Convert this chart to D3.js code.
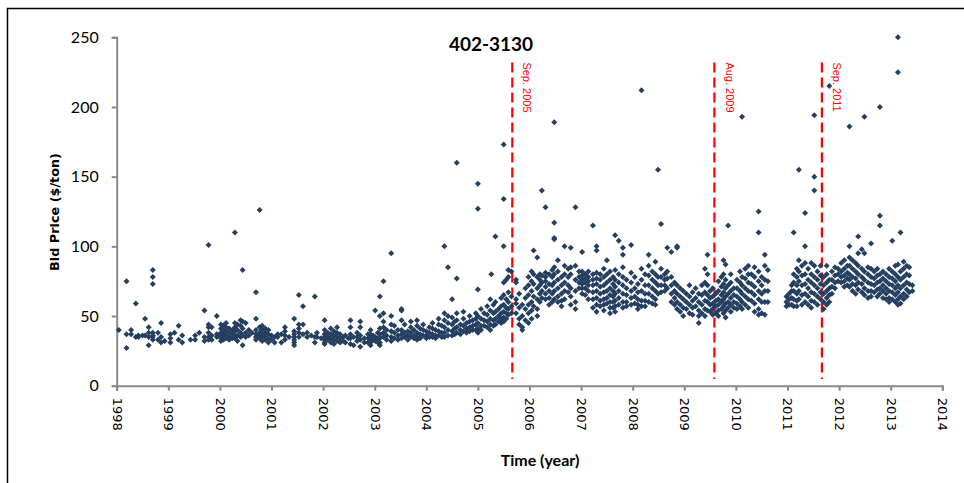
<!DOCTYPE html>
<html>
<head>
<meta charset="utf-8">
<script src="https://cdn.jsdelivr.net/npm/d3@7"></script>
<style>
  html, body { margin: 0; padding: 0; background: #fff; }
  svg { display: block; }
</style>
</head>
<body>
<svg id="chart" width="964" height="483"></svg>
<script>
// Auction dates (decimal year) and the bids received at each auction ($/ton)
const bidDates = [
  1998.04, 1998.19, 1998.28, 1998.37, 1998.42, 1998.50, 1998.55, 1998.62, 1998.70, 1998.80,
  1998.86, 1998.93, 1999.04, 1999.12, 1999.20, 1999.27, 1999.43, 1999.52, 1999.60, 1999.70,
  1999.78, 1999.84, 1999.94, 2000.02, 2000.07, 2000.12, 2000.18, 2000.24, 2000.29, 2000.34,
  2000.40, 2000.44, 2000.50, 2000.56, 2000.62, 2000.70, 2000.77, 2000.82, 2000.88, 2000.94,
  2001.00, 2001.06, 2001.12, 2001.19, 2001.26, 2001.34, 2001.44, 2001.53, 2001.61, 2001.69,
  2001.77, 2001.84, 2001.88, 2001.96, 2002.03, 2002.09, 2002.15, 2002.21, 2002.27, 2002.33,
  2002.39, 2002.43, 2002.49, 2002.53, 2002.59, 2002.66, 2002.72, 2002.80, 2002.87, 2002.92,
  2002.97, 2003.01, 2003.06, 2003.10, 2003.17, 2003.23, 2003.32, 2003.38, 2003.45, 2003.52,
  2003.58, 2003.64, 2003.70, 2003.76, 2003.82, 2003.88, 2003.94, 2004.00, 2004.06, 2004.12,
  2004.18, 2004.24, 2004.30, 2004.35, 2004.42, 2004.50, 2004.55, 2004.59, 2004.66, 2004.72,
  2004.78, 2004.84, 2004.90, 2004.96, 2005.00, 2005.06, 2005.12, 2005.18, 2005.24, 2005.26,
  2005.30, 2005.34, 2005.40, 2005.45, 2005.50, 2005.55, 2005.59, 2005.65, 2005.74, 2005.80,
  2005.86, 2005.92, 2005.98, 2006.04, 2006.08, 2006.15, 2006.20, 2006.24, 2006.31, 2006.38,
  2006.44, 2006.48, 2006.55, 2006.62, 2006.68, 2006.75, 2006.80, 2006.89, 2006.96, 2007.02,
  2007.08, 2007.14, 2007.23, 2007.30, 2007.37, 2007.44, 2007.50, 2007.56, 2007.62, 2007.66,
  2007.73, 2007.81, 2007.88, 2007.97, 2008.04, 2008.10, 2008.17, 2008.24, 2008.31, 2008.38,
  2008.44, 2008.49, 2008.55, 2008.62, 2008.67, 2008.75, 2008.81, 2008.86, 2008.92, 2008.98,
  2009.04, 2009.10, 2009.16, 2009.22, 2009.28, 2009.34, 2009.40, 2009.45, 2009.50, 2009.55,
  2009.61, 2009.66, 2009.72, 2009.76, 2009.80, 2009.85, 2009.90, 2009.96, 2010.02, 2010.08,
  2010.12, 2010.18, 2010.24, 2010.30, 2010.36, 2010.44, 2010.50, 2010.56, 2010.62, 2010.98,
  2011.03, 2011.08, 2011.12, 2011.18, 2011.22, 2011.28, 2011.34, 2011.40, 2011.46, 2011.52,
  2011.58, 2011.64, 2011.70, 2011.76, 2011.81, 2011.86, 2011.92, 2011.98, 2012.04, 2012.10,
  2012.16, 2012.20, 2012.26, 2012.32, 2012.37, 2012.44, 2012.49, 2012.56, 2012.62, 2012.68,
  2012.74, 2012.79, 2012.85, 2012.91, 2012.97, 2013.03, 2013.09, 2013.14, 2013.19, 2013.25,
  2013.31, 2013.36, 2013.42
];

const bidPrices = [
  [40], [75, 37, 27], [40, 37], [59, 35], [36, 35], [36], [48, 36], [42, 38, 35, 29],
  [83, 78, 73, 38, 36, 35, 33], [38, 33],
  [45, 35, 31], [32], [37, 34, 31], [38], [43, 33], [36, 31], [33], [36, 33], [38], [54, 35, 32],
  [101, 44, 42, 38, 35, 33], [42, 36, 33], [50, 37, 35], [44, 41, 38, 36, 34, 32], [43, 40, 37, 35, 33],
  [45, 42, 39, 36, 34], [41, 38, 35, 33], [40, 37, 34], [110, 45, 42, 39, 36, 34], [44, 40, 36, 32],
  [47, 43, 38, 35], [83, 46, 41, 36, 29], [45, 38, 35], [40, 36], [38], [67, 48, 40, 37, 35, 33],
  [126, 42, 38, 36, 34], [43, 40, 37, 35, 32], [41, 38, 35, 33], [40, 37, 34, 31],
  [36, 33], [35, 31], [37, 35], [37, 31], [42, 39, 36, 33], [35], [48, 39, 37, 35, 33, 31, 29],
  [65, 44, 41, 38, 35], [57, 44, 37], [38, 35],
  [36], [64, 35, 31], [38, 35], [34], [47, 40, 37, 35, 33, 31, 30], [38, 35, 33], [41, 37, 34, 31],
  [39, 36, 33, 30], [42, 38, 35, 32], [37, 34, 31],
  [35, 32], [36, 31], [34], [47, 42, 37, 34, 30], [35, 29], [38, 35, 32], [46, 42, 36, 33, 28],
  [34, 31], [37, 34, 31], [40, 37, 35, 33, 31, 29],
  [36, 33], [54, 35, 32], [38, 34, 31], [64, 50, 41, 37, 34, 31, 29], [75, 52, 46, 42, 38, 35],
  [40, 36, 33], [95, 50, 44, 39, 35, 32], [43, 38, 34], [40, 36, 33], [55, 54, 47, 40, 37, 34],
  [44, 38, 35], [39, 36, 33], [46, 42, 38, 35], [40, 36, 34], [47, 43, 38, 35, 33], [41, 37, 34],
  [44, 40, 36], [39, 36, 34], [42, 38, 35], [45, 41, 37, 35],
  [40, 36, 34], [48, 44, 39, 36], [43, 38, 35], [100, 52, 47, 42, 38, 35], [85, 50, 45, 40, 36],
  [62, 49, 44, 39, 36], [46, 41, 37], [160, 77, 52, 47, 42, 38], [44, 40, 37], [53, 48, 43, 39],
  [45, 41, 38], [50, 46, 42, 39], [47, 43, 40], [52, 48, 44, 40], [145, 127, 69, 50, 45, 41, 38],
  [55, 48, 43, 40], [52, 47, 43], [57, 51, 46, 42], [62, 54, 48, 44, 40], [80],
  [58, 52, 47, 43], [107, 60, 53, 48, 44], [55, 50, 46], [63, 57, 52, 48, 45],
  [173, 134, 100, 74, 65, 58, 53, 49, 46], [76, 62, 56, 52, 48], [83, 78, 67, 60, 55, 51],
  [82, 64, 57, 52], [76, 74, 62, 59, 52], [66, 56, 48, 44],
  [58, 50, 42, 40], [70, 63, 55, 47], [78, 72, 65, 58, 52, 45], [82, 75, 68, 60, 54, 48],
  [97, 80, 73, 64, 57], [92, 78, 70, 62, 55, 50], [80, 76, 72, 66, 60], [140, 79, 74, 68, 63],
  [128, 81, 78, 75, 71, 66, 62], [80, 73, 68, 63, 58],
  [83, 78, 72, 66, 60], [189, 117, 106, 105, 85, 80, 74, 68, 62], [90, 82, 76, 70, 64, 60],
  [78, 72, 66, 61, 57], [100, 86, 80, 74, 68, 62], [84, 78, 72, 67], [99, 85, 80, 70, 64, 58],
  [128, 86, 76, 68, 60, 55], [82, 78, 74, 70], [96, 82, 79, 76, 73, 70, 66],
  [80, 77, 74, 70, 65], [82, 78, 75, 72, 68, 62], [115, 80, 76, 72, 67, 62, 56],
  [100, 97, 81, 77, 73, 68, 63, 58, 53], [80, 76, 71, 66, 61, 57], [84, 78, 72, 67, 62, 58, 54],
  [90, 80, 74, 68, 63, 59], [82, 76, 70, 65, 60, 56, 52], [78, 73, 68, 64, 60, 56],
  [108, 83, 76, 71, 66, 61, 57, 53],
  [104, 80, 74, 68, 63, 58], [99, 94, 85, 78, 72, 66, 60, 56], [76, 70, 65, 60, 57],
  [101, 81, 74, 68, 63, 58], [78, 70, 64, 59], [73, 67, 62, 58, 55], [212, 84, 76, 68, 61, 57],
  [80, 72, 66, 61, 57], [94, 86, 79, 72, 66, 60], [82, 76, 70, 64, 59],
  [89, 80, 74, 68, 62, 58], [155, 78, 72, 66], [116, 84, 78, 72, 67], [80, 76, 72, 68],
  [99, 82, 77, 70], [96, 78, 72, 66, 60], [74, 68, 63, 58], [100, 99, 72, 66, 60, 55],
  [70, 64, 58, 53], [68, 62, 56, 50],
  [66, 60, 55], [72, 64, 58, 52], [67, 61, 56, 51], [70, 63, 57], [66, 60, 54, 50, 45],
  [72, 65, 58, 52], [84, 74, 67, 61, 55, 50], [94, 80, 72, 65, 60, 54], [68, 63, 58, 53],
  [70, 64, 59, 55, 51],
  [66, 61, 57, 52], [75, 68, 62, 58, 54, 50], [78, 71, 65, 60, 55], [90, 80, 73, 67, 62, 57, 52],
  [87, 76, 70, 64, 59, 54, 49], [115, 72, 66, 60, 56], [80, 74, 68, 63, 58, 53], [70, 65, 60, 56],
  [76, 70, 64, 59, 55], [82, 74, 68, 62, 57],
  [193, 78, 72, 66, 60, 55], [84, 77, 70, 64, 58], [86, 80, 74, 68, 62, 56], [80, 73, 67, 61],
  [85, 78, 71, 65, 59, 53], [125, 110, 82, 75, 68, 62, 55, 51], [78, 72, 66, 60, 52],
  [94, 86, 76, 68, 60, 51], [83, 75, 68, 60], [64, 60, 57],
  [66, 62, 58], [72, 68, 63, 58], [110, 80, 74, 68, 62, 57], [84, 78, 72, 66, 61, 57],
  [155, 90, 82, 75, 68, 62], [86, 79, 72, 65, 58], [124, 100, 88, 80, 73, 66, 60],
  [84, 76, 70, 64, 58], [88, 80, 74, 67, 61, 56], [194, 150, 140, 86, 78, 72, 66, 60],
  [82, 76, 70, 64, 58], [86, 79, 73, 67, 62], [78, 72, 66, 60, 55], [86, 80, 74, 68, 63, 58],
  [215, 76, 70, 65, 60], [82, 76, 71, 66], [85, 79, 74, 70], [84, 80, 75], [88, 82, 78, 74],
  [90, 84, 79, 75, 71],
  [86, 81, 77, 72], [186, 100, 92, 86, 80, 76, 71], [90, 84, 78, 73, 68], [88, 82, 77, 72, 66],
  [107, 95, 86, 80, 74, 69], [98, 84, 78, 73, 67], [193, 95, 82, 76, 70, 65], [85, 80, 74, 68, 63],
  [102, 84, 78, 73, 68, 64], [82, 77, 72, 67],
  [84, 79, 74, 69, 64], [200, 122, 115, 80, 75, 70, 66], [82, 77, 72, 68, 63], [80, 75, 70, 66, 62],
  [84, 78, 73, 68, 63, 60], [104, 82, 77, 72, 67, 62], [86, 80, 75, 70, 65, 60],
  [250, 225, 87, 78, 72, 67, 62, 58], [110, 82, 76, 70, 64, 59], [89, 84, 78, 72, 66, 62],
  [86, 80, 74, 69, 64], [85, 79, 73, 67], [72, 68]
];

// Policy events marked with vertical reference lines
const eventDates = [2005 + 8 / 12, 2009 + 7 / 12, 2011 + 8 / 12];
const eventLabels = ["Sep. 2005", "Aug. 2009", "Sep. 2011"];

// Axis ticks
const yearTicks = d3.range(1998, 2015);
const priceTicks = [0, 50, 100, 150, 200, 250];

const chartTitle = "402-3130";
const xTitle = "Time (year)";
const yTitle = "Bid Price ($/ton)";

const bids = bidDates.flatMap((d, i) => bidPrices[i].map(p => ({ date: d, price: p })));

const svg = d3.select("#chart");

// outer frame
svg.append("rect")
  .attr("x", 7.5).attr("y", 8.5)
  .attr("width", 1000).attr("height", 520)
  .attr("fill", "none").attr("stroke", "#000").attr("stroke-width", 1.5);

const x = d3.scaleLinear().domain([1998, 2014]).range([116.7, 942.3]);
const y = d3.scaleLinear().domain([0, 250]).range([385.7, 37.3]);

const axisColor = "#898989";

// y axis
const gy = svg.append("g")
  .attr("transform", `translate(${x(1998)},0)`)
  .call(d3.axisLeft(y).tickValues(priceTicks).tickSize(5).tickPadding(13).tickFormat(d3.format("d")));
gy.select(".domain").attr("stroke", axisColor).attr("stroke-width", 2);
gy.selectAll(".tick line").attr("stroke", axisColor).attr("stroke-width", 2);
gy.selectAll(".tick text")
  .attr("fill", "#000")
  .style("font-family", "Lato, 'Liberation Sans', sans-serif")
  .style("font-size", "16px");

// x axis
const gx = svg.append("g")
  .attr("transform", `translate(0,${y(0)})`)
  .call(d3.axisBottom(x).tickValues(yearTicks).tickSize(5).tickFormat(d3.format("d")));
gx.select(".domain").attr("stroke", axisColor).attr("stroke-width", 2);
gx.selectAll(".tick line").attr("stroke", axisColor).attr("stroke-width", 2);
gx.selectAll(".tick text")
  .attr("fill", "#000")
  .attr("transform", "rotate(90)")
  .attr("x", 12).attr("y", 0).attr("dy", "0.36em")
  .attr("text-anchor", "start")
  .style("font-family", "'DejaVu Sans', sans-serif")
  .style("font-size", "13px");

// event reference lines
const eventTop = 232;
const ev = svg.append("g").selectAll("g").data(eventDates).join("g");
ev.append("line")
  .attr("x1", d => x(d)).attr("x2", d => x(d))
  .attr("y1", y(eventTop)).attr("y2", y(4.8))
  .attr("stroke", "#ff0000").attr("stroke-width", 2.2)
  .attr("stroke-dasharray", "10,5");
ev.append("text")
  .attr("transform", d => `translate(${x(d) + 15},${y(eventTop)}) rotate(90)`)
  .attr("dy", "0.35em")
  .attr("fill", "#ff0000")
  .style("font-family", "'Liberation Sans', sans-serif")
  .style("font-size", "11px")
  .text((d, i) => eventLabels[i]);

// bid markers
svg.append("g")
  .selectAll("path")
  .data(bids)
  .join("path")
  .attr("d", d3.symbol().type(d3.symbolSquare).size(18))
  .attr("transform", d => `translate(${x(d.date)},${y(d.price)}) rotate(45)`)
  .attr("fill", "#243f60");

// titles
svg.append("text")
  .attr("x", 491).attr("y", 51)
  .attr("text-anchor", "middle")
  .style("font-family", "Lato, sans-serif")
  .style("font-weight", "bold")
  .style("font-size", "19px")
  .text(chartTitle);

svg.append("text")
  .attr("x", 540).attr("y", 466)
  .attr("text-anchor", "middle")
  .style("font-family", "Lato, sans-serif")
  .style("font-weight", "bold")
  .style("font-size", "16px")
  .text(xTitle);

svg.append("text")
  .attr("transform", "translate(59,212) rotate(-90)")
  .attr("text-anchor", "middle")
  .style("font-family", "'DejaVu Sans', sans-serif")
  .style("font-weight", "bold")
  .style("font-size", "12.8px")
  .text(yTitle);
</script>
</body>
</html>
